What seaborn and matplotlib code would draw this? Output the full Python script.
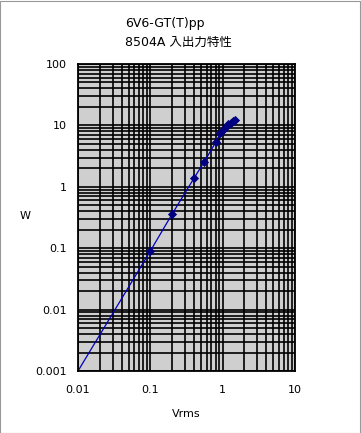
import matplotlib
matplotlib.use("Agg")
import matplotlib.pyplot as plt
import seaborn as sns
from matplotlib.patches import Rectangle

# input voltage (Vrms) vs output power (W)
vin = [0.1, 0.2, 0.4, 0.55, 0.8, 0.92, 1.0, 1.1, 1.2, 1.3, 1.4, 1.5]
pout = [0.09, 0.36, 1.37, 2.5, 5.3, 7.4, 8.4, 9.5, 10.4, 11.1, 11.7, 12.2]
# line runs from the lower-left corner through the measured points
line_vin = [0.01] + vin
line_pout = [0.001] + pout

title_lines = ["6V6-GT(T)pp", "8504A 入出力特性"]
x_ticks = [0.01, 0.1, 1, 10]
x_ticklabels = ["0.01", "0.1", "1", "10"]
y_ticks = [0.001, 0.01, 0.1, 1, 10, 100]
y_ticklabels = ["0.001", "0.01", "0.1", "1", "10", "100"]

sns.set_style("white")
plt.rcParams["font.family"] = ["DejaVu Sans", "Noto Sans CJK JP"]
plt.rcParams["text.color"] = "black"
plt.rcParams["axes.labelcolor"] = "black"
plt.rcParams["xtick.color"] = "black"
plt.rcParams["ytick.color"] = "black"

fig = plt.figure(figsize=(3.61, 4.33), dpi=100)
ax = fig.add_axes([78 / 361, 1 - 371 / 433, 217 / 361, 307 / 433])
ax.set_facecolor("#cfcfcf")

sns.lineplot(x=line_vin, y=line_pout, ax=ax, color="#0000bb", linewidth=0.9,
             sort=False, estimator=None)
sns.scatterplot(x=vin, y=pout, ax=ax, marker="D", s=22, color="#000080",
                edgecolor="#000080", linewidth=0, zorder=5)

ax.set_xscale("log")
ax.set_yscale("log")
ax.set_xlim(0.01, 10)
ax.set_ylim(0.001, 100)
ax.set_xticks(x_ticks)
ax.set_xticklabels(x_ticklabels)
ax.set_yticks(y_ticks)
ax.set_yticklabels(y_ticklabels)
ax.grid(True, which="both", color="black", linewidth=1.2)
ax.set_axisbelow(True)
ax.tick_params(which="both", length=0, labelsize=8, pad=10, labelcolor="black")
ax.tick_params(axis="y", pad=8)
for s in ax.spines.values():
    s.set_color("black")
    s.set_linewidth(1.3)

ax.set_xlabel("Vrms", fontsize=8, labelpad=10, color="black")
ax.set_ylabel("W", fontsize=8, rotation=0, labelpad=0, color="black")
ax.yaxis.set_label_coords(-0.245, 0.49)

fig.text(125 / 361, 1 - 24 / 433, title_lines[0], fontsize=9, ha="left", va="center",
         color="black")
fig.text(125 / 361, 1 - 42 / 433, title_lines[1], fontsize=9, ha="left", va="center",
         color="black", family=["DejaVu Sans", "Noto Sans CJK JP"])

fig.add_artist(Rectangle((0.001, 0.001), 0.995, 0.996, transform=fig.transFigure,
                         fill=False, edgecolor="#999999", linewidth=0.8))

fig.savefig("out.png", dpi=100)
